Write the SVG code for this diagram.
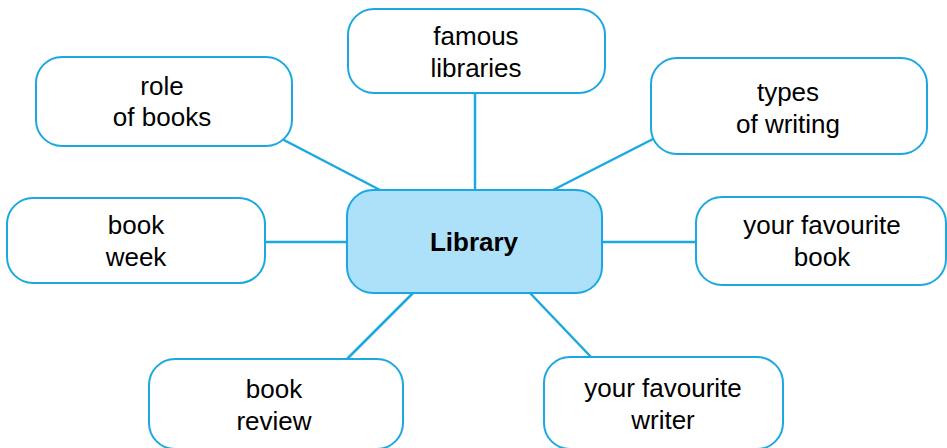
<svg xmlns="http://www.w3.org/2000/svg" width="947" height="448" viewBox="0 0 947 448">
<style>
.box{fill:#ffffff;stroke:#1ba8e2;stroke-width:2}
.center{fill:#ade1f9;stroke:#1ba8e2;stroke-width:2}
.t{font-family:"Liberation Sans",Arial,sans-serif;font-size:26px;fill:#000;text-anchor:middle}
.b{font-weight:bold}
.conn line{stroke:#1ba8e2;stroke-width:2.5}
</style>
<rect width="947" height="448" fill="#ffffff"/>
<g id="connectors" class="conn">
<line x1="475" y1="93" x2="475" y2="190"/>
<line x1="282" y1="139" x2="380" y2="190"/>
<line x1="655" y1="138" x2="553" y2="190"/>
<line x1="265" y1="242" x2="347" y2="242"/>
<line x1="602" y1="242" x2="696" y2="242"/>
<line x1="413" y1="293" x2="347" y2="359"/>
<line x1="530" y1="293" x2="591" y2="357"/>
</g>
<g id="library">
<rect class="center" x="347" y="190" width="255" height="103" rx="26"/>
<text class="t b" x="474" y="251">Library</text>
</g>
<g id="famous-libraries">
<rect class="box" x="348" y="9" width="257" height="84" rx="26"/>
<text class="t" x="476" y="45">famous</text>
<text class="t" x="476" y="77">libraries</text>
</g>
<g id="role-of-books">
<rect class="box" x="36" y="57" width="256" height="89" rx="26"/>
<text class="t" x="162" y="95">role</text>
<text class="t" x="162" y="126">of books</text>
</g>
<g id="types-of-writing">
<rect class="box" x="651" y="58" width="276" height="96" rx="26"/>
<text class="t" x="788" y="101">types</text>
<text class="t" x="788" y="133">of writing</text>
</g>
<g id="book-week">
<rect class="box" x="7" y="198" width="258" height="85" rx="26"/>
<text class="t" x="136" y="234">book</text>
<text class="t" x="136" y="266">week</text>
</g>
<g id="your-favourite-book">
<rect class="box" x="696" y="197" width="250" height="88" rx="26"/>
<text class="t" x="822" y="234">your favourite</text>
<text class="t" x="822" y="266">book</text>
</g>
<g id="book-review">
<rect class="box" x="149" y="359" width="254" height="90" rx="26"/>
<text class="t" x="274" y="398">book</text>
<text class="t" x="274" y="430">review</text>
</g>
<g id="your-favourite-writer">
<rect class="box" x="544" y="357" width="239" height="92" rx="26"/>
<text class="t" x="663" y="397">your favourite</text>
<text class="t" x="663" y="429">writer</text>
</g>
</svg>
